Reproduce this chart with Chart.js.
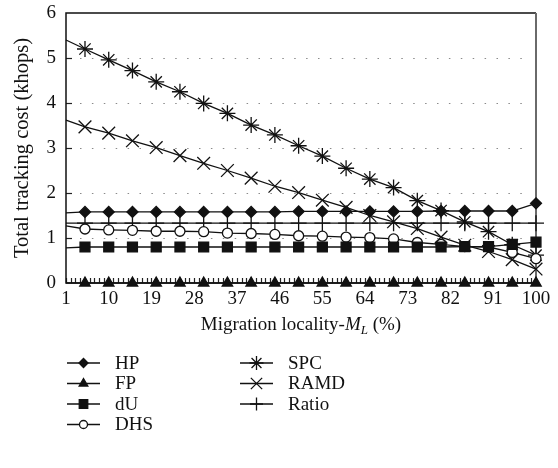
<!DOCTYPE html>
<html>
<head>
<meta charset="utf-8">
<script src="https://cdn.jsdelivr.net/npm/chart.js@4.4.0/dist/chart.umd.min.js"></script>
<style>
  html, body { margin: 0; padding: 0; background: #fff; }
  #wrap { width: 558px; height: 468px; }
</style>
</head>
<body>
<div id="wrap"><canvas id="c" width="558" height="468"></canvas></div>
<script>
// valori (x = località di migrazione, y = khops)
const xValues = [1, 5, 10, 15, 20, 25, 30, 35, 40, 45, 50, 55, 60, 65, 70, 75, 80, 85, 90, 95, 100];
const xTicks = [1, 10, 19, 28, 37, 46, 55, 64, 73, 82, 91, 100];
const yTicks = [0, 1, 2, 3, 4, 5, 6];

const hp    = [1.56, 1.58, 1.58, 1.58, 1.58, 1.58, 1.58, 1.58, 1.58, 1.58, 1.59, 1.59, 1.59, 1.59, 1.59, 1.59, 1.6, 1.6, 1.6, 1.6, 1.77];
const fp    = [0, 0, 0, 0, 0, 0, 0, 0, 0, 0, 0, 0, 0, 0, 0, 0, 0, 0, 0, 0, 0];
const dU    = [0.78, 0.8, 0.8, 0.8, 0.8, 0.8, 0.8, 0.8, 0.8, 0.8, 0.8, 0.8, 0.8, 0.8, 0.8, 0.8, 0.8, 0.81, 0.81, 0.86, 0.91];
const dhs   = [1.27, 1.2, 1.18, 1.17, 1.15, 1.15, 1.14, 1.11, 1.1, 1.08, 1.05, 1.04, 1.02, 1.01, 0.98, 0.9, 0.86, 0.81, 0.8, 0.68, 0.54];
const spc   = [5.4, 5.2, 4.96, 4.72, 4.47, 4.25, 3.99, 3.77, 3.51, 3.29, 3.05, 2.82, 2.55, 2.31, 2.12, 1.83, 1.61, 1.36, 1.14, 0.85, 0.62];
const ramd  = [3.62, 3.47, 3.33, 3.16, 3.01, 2.83, 2.66, 2.5, 2.33, 2.15, 2.01, 1.84, 1.68, 1.5, 1.36, 1.21, 1.02, 0.84, 0.7, 0.52, 0.31];
const ratio = [1.33, 1.33, 1.33, 1.33, 1.33, 1.33, 1.33, 1.33, 1.33, 1.33, 1.33, 1.33, 1.33, 1.33, 1.33, 1.33, 1.33, 1.33, 1.33, 1.33, 1.33];

const seriesNames = ['HP', 'FP', 'dU', 'DHS', 'SPC', 'RAMD', 'Ratio'];
const seriesData = [hp, fp, dU, dhs, spc, ramd, ratio];

const serif = "'Liberation Serif', 'DejaVu Serif', serif";
const ink = '#111';

// marker per serie
const marks = [
  { style: 'rectRot', r: 5.5, fill: ink, lr: 4.5 },
  { style: 'triangle', r: 6, fill: ink, lr: 5 },
  { style: 'rect', r: 7, fill: ink, lr: 6 },
  { style: 'circle', r: 5, fill: '#fff', lr: 4 },
  { style: 'star', r: 8, fill: ink, lr: 7 },
  { style: 'crossRot', r: 9, fill: ink, lr: 8 },
  { style: 'cross', r: 8, fill: ink, lr: 6.5 },
];

const datasets = seriesNames.map((name, k) => ({
  label: name,
  data: xValues.map((x, i) => ({ x, y: seriesData[k][i] })),
  borderColor: ink, borderWidth: 1.3,
  pointStyle: marks[k].style,
  pointRadius: xValues.map((x, i) => (i === 0 ? 0 : marks[k].r)),
  pointBackgroundColor: marks[k].fill, pointBorderColor: ink, pointBorderWidth: 1.3,
  tension: 0, fill: false, clip: false,
}));

const framePlugin = {
  id: 'frame',
  beforeDatasetsDraw(chart) {
    const { ctx, chartArea: a, scales: { x, y } } = chart;
    ctx.save();
    // griglia puntinata
    ctx.strokeStyle = '#8a8a8a'; ctx.lineWidth = 1.2; ctx.setLineDash([1.5, 10.4]);
    yTicks.forEach((v) => {
      if (v === 0 || v === 6) return;
      const py = Math.round(y.getPixelForValue(v)) + 0.5;
      ctx.beginPath(); ctx.moveTo(a.left + 14, py); ctx.lineTo(a.right - 4, py); ctx.stroke();
    });
    ctx.setLineDash([]);
    // tacche interne
    ctx.strokeStyle = '#222'; ctx.lineWidth = 1.2;
    yTicks.forEach((v) => {
      if (v === 0 || v === 6) return;
      const py = Math.round(y.getPixelForValue(v)) + 0.5;
      ctx.beginPath(); ctx.moveTo(a.left, py); ctx.lineTo(a.left + 6, py); ctx.stroke();
    });
    for (let v = 1; v <= 100; v++) {
      const px = Math.round(x.getPixelForValue(v)) + 0.5;
      ctx.beginPath(); ctx.moveTo(px, a.bottom); ctx.lineTo(px, a.bottom - 5); ctx.stroke();
    }
    // cornice
    ctx.lineWidth = 1.5; ctx.strokeStyle = '#111';
    ctx.beginPath();
    ctx.moveTo(a.right, a.top); ctx.lineTo(a.left, a.top); ctx.lineTo(a.left, a.bottom); ctx.lineTo(a.right, a.bottom);
    ctx.stroke();
    ctx.strokeStyle = '#6a6a6a'; ctx.lineWidth = 2;
    ctx.beginPath(); ctx.moveTo(a.right, a.top); ctx.lineTo(a.right, a.bottom); ctx.stroke();
    ctx.restore();
  },
  afterDraw(chart) {
    const { ctx, chartArea: a } = chart;
    ctx.save();
    ctx.fillStyle = ink; ctx.textBaseline = 'alphabetic';
    // titolo asse x con M_L in corsivo
    const parts = [
      { t: 'Migration locality-', f: `19px ${serif}`, dy: 0 },
      { t: 'M', f: `italic 19px ${serif}`, dy: 0 },
      { t: 'L', f: `italic 13px ${serif}`, dy: 4 },
      { t: ' (%)', f: `19px ${serif}`, dy: 0 },
    ];
    let w = 0;
    parts.forEach((p) => { ctx.font = p.f; w += ctx.measureText(p.t).width; });
    let tx = (a.left + a.right) / 2 - w / 2;
    ctx.textAlign = 'left';
    parts.forEach((p) => { ctx.font = p.f; ctx.fillText(p.t, tx, 330 + p.dy); tx += ctx.measureText(p.t).width; });
    // titolo asse y
    ctx.save();
    ctx.translate(28, (a.top + a.bottom) / 2);
    ctx.rotate(-Math.PI / 2);
    ctx.textAlign = 'center'; ctx.font = `20.5px ${serif}`;
    ctx.fillText('Total tracking cost (khops)', 0, 0);
    ctx.restore();
    // legenda a due colonne
    const cols = [{ x0: 67, tx: 115 }, { x0: 240, tx: 288 }];
    seriesNames.forEach((name, k) => {
      const col = k < 4 ? cols[0] : cols[1];
      const row = k < 4 ? k : k - 4;
      const ly = 363 + row * 20.5;
      ctx.strokeStyle = ink; ctx.lineWidth = 1.3;
      ctx.beginPath(); ctx.moveTo(col.x0, ly); ctx.lineTo(col.x0 + 33, ly); ctx.stroke();
      ctx.fillStyle = marks[k].fill;
      Chart.helpers.drawPoint(ctx, { pointStyle: marks[k].style, radius: marks[k].lr, borderWidth: 1.3, rotation: 0 }, col.x0 + 16.5, ly);
      ctx.fillStyle = ink; ctx.font = `19px ${serif}`; ctx.textAlign = 'left'; ctx.textBaseline = 'middle';
      ctx.fillText(name, col.tx, ly + 1);
    });
    ctx.restore();
  },
};

new Chart(document.getElementById('c'), {
  type: 'line',
  data: { datasets },
  options: {
    responsive: false, animation: false, devicePixelRatio: 1,
    layout: { padding: { top: 13, right: 22, left: 0, bottom: 130 } },
    plugins: { legend: { display: false }, tooltip: { enabled: false } },
    scales: {
      x: {
        type: 'linear', min: 1, max: 100,
        afterBuildTicks: (axis) => { axis.ticks = xTicks.map((v) => ({ value: v })); },
        afterFit: (s) => { s.height = 55; },
        grid: { display: false, drawTicks: false }, border: { display: false },
        ticks: { color: ink, font: { family: serif, size: 19 }, padding: 5, maxRotation: 0, autoSkip: false },
      },
      y: {
        min: 0, max: 6,
        afterBuildTicks: (axis) => { axis.ticks = yTicks.map((v) => ({ value: v })); },
        afterFit: (s) => { s.width = 66; s.paddingTop = 0; s.paddingBottom = 0; },
        grid: { display: false, drawTicks: false }, border: { display: false },
        ticks: { color: ink, font: { family: serif, size: 19 }, padding: 10 },
      },
    },
  },
  plugins: [framePlugin],
});
</script>
</body>
</html>
